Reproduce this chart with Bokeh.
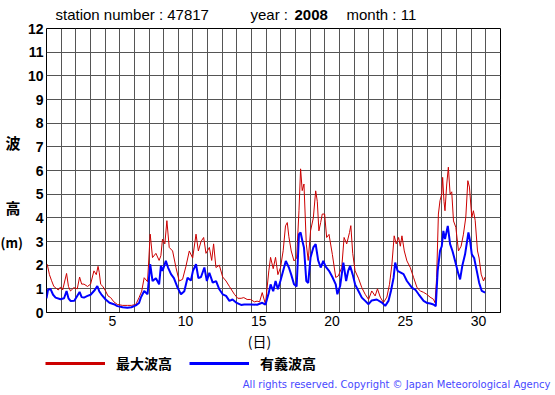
from bokeh.plotting import figure
from bokeh.models import FixedTicker, Label, Legend, LegendItem, Range1d, Grid
from bokeh.layouts import column, row
from bokeh.embed import file_html
from bokeh.resources import INLINE

# time of reading (days since Nov 1 00:00) and wave height (m)
red_day = [0.05, 0.2, 0.35, 0.5, 0.62, 0.8, 0.96, 1.1, 1.37, 1.5, 1.64, 1.87, 2.1, 2.26, 2.4, 2.56,
           2.8, 3.01, 3.24, 3.4, 3.52, 3.6, 3.7, 3.85, 4.04, 4.2, 4.38, 4.6, 4.84, 5.2, 5.52, 5.8,
           6.1, 6.32, 6.5, 6.67, 6.9, 7.08, 7.24, 7.47, 7.69, 7.81, 7.92, 8.08, 8.22, 8.38, 8.61,
           8.84, 9.06, 9.29, 9.52, 9.75, 9.98, 10.21, 10.37, 10.55, 10.73, 10.89, 11.12, 11.28,
           11.41, 11.57, 11.8, 12.03, 12.26, 12.49, 12.83, 13.06, 13.29, 13.47, 13.7, 13.93, 14.2,
           14.38, 14.55, 14.73, 14.95, 15.18, 15.3, 15.48, 15.64, 15.8, 15.98, 16.16, 16.32, 16.44,
           16.55, 16.71, 16.9, 17.08, 17.24, 17.35, 17.46, 17.58, 17.74, 17.87, 18.03, 18.22, 18.38,
           18.49, 18.6, 18.72, 18.83, 18.99, 19.13, 19.29, 19.52, 19.75, 19.93, 20.16, 20.32, 20.5,
           20.69, 20.78, 20.91, 21.07, 21.3, 21.53, 21.76, 21.99, 22.21, 22.44, 22.6, 22.79, 23.01,
           23.24, 23.42, 23.58, 23.74, 23.88, 24.04, 24.16, 24.27, 24.43, 24.61, 24.84, 25.07, 25.3,
           25.53, 25.75, 25.96, 26.19, 26.42, 26.53, 26.64, 26.76, 26.87, 26.99, 27.05, 27.14, 27.21,
           27.33, 27.44, 27.56, 27.67, 27.79, 27.95, 28.13, 28.31, 28.47, 28.63, 28.77, 28.88, 29.04,
           29.15, 29.27, 29.43, 29.54, 29.68, 29.84, 29.95]
red_m = [2.04, 1.6, 1.34, 1.1, 1.05, 0.95, 1.08, 0.95, 1.65, 1.1, 0.91, 1.05, 1.0, 1.5, 1.2, 1.2,
         1.1, 1.2, 1.76, 1.6, 1.95, 1.7, 1.19, 1.1, 0.9, 0.7, 0.63, 0.45, 0.34, 0.3, 0.3, 0.3,
         0.34, 0.63, 0.9, 1.47, 1.3, 3.31, 2.32, 2.5, 2.2, 2.4, 3.1, 2.9, 3.88, 2.75, 2.6,
         1.9, 1.33, 1.4, 1.95, 2.6, 2.3, 3.31, 2.6, 3.0, 3.17, 2.5, 2.75, 2.2,
         2.9, 1.9, 2.0, 1.5, 1.33, 1.1, 0.77, 0.6, 0.6, 0.63, 0.55, 0.55, 0.45,
         0.48, 0.45, 0.84, 0.35, 1.76, 2.33, 1.85, 2.33, 1.6, 1.9, 2.61, 3.66, 3.8,
         3.2, 2.6, 2.18, 2.3, 4.3, 6.07, 5.15, 5.43, 2.89, 2.2, 3.45, 4.0, 5.14,
         4.7, 3.45, 3.8, 4.16, 4.16, 3.17, 3.3, 2.45, 1.48, 1.55, 1.9, 3.17, 2.9,
         3.38, 3.67, 2.5, 1.76, 1.45, 1.05, 0.77, 0.55, 0.91, 0.7, 1.0, 0.65, 0.42,
         0.65, 1.19, 2.0, 3.24, 2.9, 3.17, 2.8, 3.24, 2.6, 2.18, 1.9, 1.47, 1.05,
         0.91, 0.85, 0.77, 0.65, 0.56, 0.41, 1.48, 4.16, 4.73, 5.0, 5.71, 4.7, 4.3,
         5.43, 6.14, 5.0, 5.1, 3.87, 3.6, 2.6, 2.8, 3.31, 4.02, 5.57, 5.3, 4.02,
         4.3, 3.9, 2.6, 2.3, 1.62, 1.33, 1.5]

blue_day = [0.0, 0.1, 0.27, 0.45, 0.62, 0.96, 1.2, 1.37, 1.5, 1.64, 1.9, 2.26, 2.4, 2.56, 2.8, 3.01,
            3.3, 3.47, 3.6, 3.74, 4.04, 4.3, 4.6, 4.84, 5.2, 5.52, 5.8, 6.1, 6.32, 6.44, 6.67, 6.9,
            7.08, 7.24, 7.47, 7.69, 7.81, 7.92, 8.15, 8.3, 8.5, 8.7, 8.95, 9.18, 9.41, 9.63, 9.86,
            10.0, 10.21, 10.37, 10.55, 10.78, 10.95, 11.12, 11.35, 11.58, 11.8, 12.03, 12.26, 12.49,
            12.7, 12.95, 13.29, 13.5, 13.93, 14.38, 14.73, 14.95, 15.18, 15.3, 15.48, 15.64, 15.8,
            15.98, 16.16, 16.34, 16.55, 16.71, 16.9, 17.08, 17.24, 17.35, 17.48, 17.58, 17.74, 17.87,
            18.03, 18.22, 18.38, 18.55, 18.72, 18.9, 19.05, 19.29, 19.52, 19.75, 19.86, 20.05, 20.27,
            20.46, 20.6, 20.73, 20.91, 21.07, 21.3, 21.53, 21.76, 21.99, 22.21, 22.55, 22.9, 23.13,
            23.35, 23.52, 23.7, 23.81, 23.97, 24.16, 24.38, 24.61, 24.95, 25.2, 25.41, 25.75, 26.0,
            26.21, 26.42, 26.58, 26.71, 26.87, 26.99, 27.1, 27.21, 27.4, 27.56, 27.72, 27.9, 28.13,
            28.24, 28.4, 28.58, 28.81, 28.93, 29.04, 29.2, 29.38, 29.54, 29.72, 29.95]
blue_m = [0.6, 0.95, 1.0, 0.75, 0.63, 0.56, 0.6, 0.91, 0.6, 0.49, 0.5, 0.87, 0.65, 0.63, 0.7, 0.75,
          0.95, 1.12, 0.9, 0.77, 0.55, 0.41, 0.35, 0.27, 0.22, 0.2, 0.22, 0.3, 0.4, 0.63, 0.91, 0.77,
          2.04, 1.33, 1.45, 1.19, 1.97, 1.76, 2.18, 1.9, 1.62, 1.45, 1.05, 0.77, 0.9, 1.47, 1.35,
          1.76, 2.04, 1.45, 1.5, 1.9, 1.33, 1.68, 1.26, 1.33, 0.98, 0.77, 0.7, 0.49,
          0.55, 0.42, 0.32, 0.34, 0.34, 0.33, 0.41, 0.33, 0.84, 1.19, 0.9, 1.33, 0.98,
          1.35, 1.76, 2.18, 1.9, 1.6, 1.19, 1.1, 3.31, 3.38, 3.0, 2.75, 1.33, 1.25,
          2.33, 2.75, 2.89, 2.2, 1.9, 2.18, 1.95, 1.76, 1.5, 1.19, 0.77, 1.12, 2.11,
          1.33, 1.76, 1.97, 1.6, 1.19, 0.91, 0.63, 0.49, 0.35, 0.51, 0.55, 0.42, 0.28,
          0.49, 0.91, 1.47, 2.11, 1.76, 1.7, 1.62, 1.33, 1.05, 0.95, 0.77, 0.49, 0.4,
          0.38, 0.34, 0.27, 1.76, 2.6, 2.8, 3.45, 3.1, 3.66, 2.89, 2.6, 2.18, 1.62,
          1.4, 2.0, 2.46, 3.38, 3.0, 2.46, 2.3, 1.76, 1.26, 0.91, 0.84]

label_days = [5, 10, 15, 20, 25, 30]
y_ticks = list(range(0, 13))
grid_days = list(range(0, 32))
series_names = ["最大波高", "有義波高"]
series_colors = ["#cc0000", "#0000ff"]

W = 555
H_TOP = 23          # header strip height (right column)
H_CHART = 331       # full height of the chart rows
H_BOT = 395 - H_CHART
W_LAB = 23          # unit label column
W_YAX = 23          # y-axis column
W_MAIN = W - W_LAB - W_YAX
FRAME_TOP = 28
FRAME_BOTTOM = 312
FRAME_RIGHT = 500
X0 = W_LAB + W_YAX  # left of main figure in the page

y_range = Range1d(0, 12)


def text_panel(width, height, xr, yr):
    # x_range / y_range are given in page pixels of the area the panel's frame covers
    f = figure(width=width, height=height, output_backend="svg", toolbar_location=None,
               x_range=Range1d(*xr), y_range=Range1d(*yr),
               x_axis_location=None, y_axis_location=None,
               min_border=0, min_border_left=0, min_border_right=0,
               min_border_top=0, min_border_bottom=0)
    f.outline_line_color = None
    f.grid.visible = False
    f.background_fill_color = "white"
    f.border_fill_color = "white"
    return f


def lab(f, text, x, y, size="15px", style="normal", font="Liberation Sans",
        color="black", align="left"):
    f.add_layout(Label(x=x, y=y, text=text, text_font=font, text_font_size=size,
                       text_font_style=style, text_color=color, text_align=align,
                       text_baseline="middle"))


# ---- unit label column (its frame is aligned with the chart frame) ----
labf = text_panel(W_LAB, H_CHART, (0, W_LAB), (FRAME_BOTTOM, FRAME_TOP))
lab(labf, "波", 5, 142, font="Noto Sans CJK JP", style="bold")
lab(labf, "高", 5, 207, font="Noto Sans CJK JP", style="bold")
lab(labf, "(m)", 0, 242, size="13px", font="Noto Sans CJK JP", style="bold")

# ---- y-axis column (shares the y range of the chart) ----
yf = figure(width=W_YAX, height=H_CHART, output_backend="svg", toolbar_location=None,
            x_range=Range1d(0, 1), y_range=y_range, x_axis_location=None,
            min_border_left=W_YAX - 1, min_border_right=0,
            min_border_top=FRAME_TOP, min_border_bottom=H_CHART - FRAME_BOTTOM)
yf.outline_line_color = None
yf.grid.visible = False
yf.background_fill_color = "white"
yf.border_fill_color = "white"
yf.yaxis.ticker = FixedTicker(ticks=y_ticks)
yf.yaxis.major_tick_out = 0
yf.yaxis.major_tick_in = 0
yf.yaxis.minor_tick_line_color = None
yf.yaxis.axis_line_color = None
yf.yaxis.major_label_text_font = "Liberation Sans"
yf.yaxis.major_label_text_font_size = "14px"
yf.yaxis.major_label_text_font_style = "bold"
yf.yaxis.major_label_text_color = "black"
yf.yaxis.major_label_standoff = 2

# ---- header (its frame is aligned with the chart frame horizontally) ----
head = text_panel(W_MAIN, H_TOP, (X0, FRAME_RIGHT), (H_TOP, 0))
lab(head, "station number : 47817", 55, 14)
lab(head, "year : ", 250, 14)
lab(head, "2008", 294, 14, style="bold")
lab(head, "month : 11", 346, 14)

# ---- main chart ----
p = figure(width=W_MAIN, height=H_CHART - H_TOP, output_backend="svg", toolbar_location=None,
           x_range=Range1d(0, 31), y_range=y_range, y_axis_location=None,
           min_border_left=0, min_border_right=W - FRAME_RIGHT,
           min_border_top=FRAME_TOP - H_TOP, min_border_bottom=H_CHART - FRAME_BOTTOM)
p.background_fill_color = "white"
p.border_fill_color = "white"
p.outline_line_color = "black"
p.outline_line_width = 1
p.center = []
p.add_layout(Grid(dimension=0, ticker=FixedTicker(ticks=grid_days),
                  grid_line_color="#555555", grid_line_width=1))
p.add_layout(Grid(dimension=1, ticker=FixedTicker(ticks=y_ticks),
                  grid_line_color="#555555", grid_line_width=1))

centers = [d - 0.5 for d in label_days]
p.xaxis.ticker = FixedTicker(ticks=centers)
p.xaxis.major_label_overrides = {c: str(d) for c, d in zip(centers, label_days)}
p.xaxis.major_tick_out = 0
p.xaxis.major_tick_in = 0
p.xaxis.minor_tick_line_color = None
p.xaxis.axis_line_color = "black"
p.xaxis.major_label_text_color = "black"
p.xaxis.major_label_text_font = "Liberation Sans"
p.xaxis.major_label_text_font_size = "14px"
p.xaxis.major_label_standoff = 3

p.line(red_day, red_m, line_color=series_colors[0], line_width=1)
p.line(blue_day, blue_m, line_color=series_colors[1], line_width=2)

# ---- footer: axis unit, legend, copyright ----
foot = text_panel(W, H_BOT, (0, W), (H_BOT, 0))
y0 = H_CHART
lab(foot, "(日)", 259, 340 - y0, size="14px", font="Noto Sans CJK JP", align="center")
nan = float("nan")
leg_red = foot.line(x=[nan], y=[nan], line_color=series_colors[0], line_width=3)
leg_blue = foot.line(x=[nan], y=[nan], line_color=series_colors[1], line_width=3)
legend = Legend(items=[LegendItem(label=series_names[0], renderers=[leg_red]),
                       LegendItem(label=series_names[1], renderers=[leg_blue])],
                orientation="horizontal", location=(45, H_BOT - (364.5 - y0) - 8),
                glyph_width=60, glyph_height=16, label_height=16, label_standoff=11,
                spacing=17, padding=0, margin=0, border_line_color=None,
                background_fill_alpha=0,
                label_text_font="Noto Sans CJK JP", label_text_font_style="bold",
                label_text_font_size="14px", label_text_color="black")
foot.add_layout(legend)
lab(foot, "All rights reserved. Copyright © Japan Meteorological Agency", 550, 384 - y0,
    size="10px", font="DejaVu Sans", color="#4848ff", align="right")

layout = column(row(labf, yf, column(head, p)), foot)
open("out.html", "w").write(file_html(layout, INLINE))
